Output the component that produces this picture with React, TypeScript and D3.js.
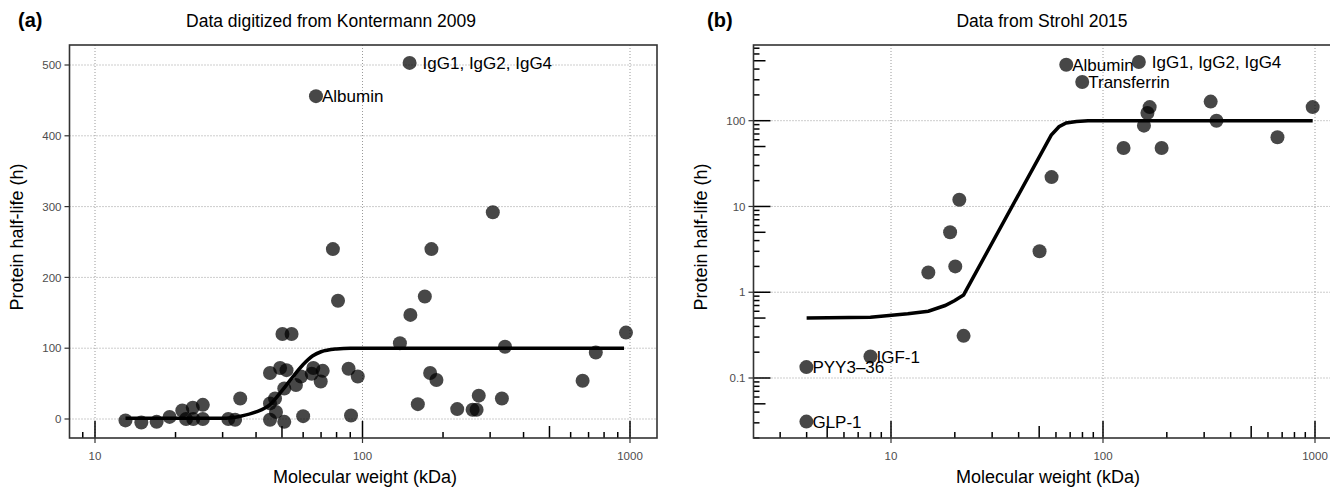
import React from 'react';
import * as d3 from 'd3';

// panel (a): Kontermann 2009
const mwA = [13, 14.9, 17, 19, 21.2, 21.9, 23.2, 23.3, 25.3, 25.3, 31.5, 33.4, 34.9, 45.1, 45.1, 47.1, 47.5, 51, 45.1, 49.2, 52, 51, 50.2, 54.3, 56.4, 58.9, 60, 65.5, 64.6, 69.8, 71, 77.5, 67, 81, 88.7, 96, 90.6, 138, 150, 151, 171, 181, 179, 189, 161, 226, 258, 267, 272, 307, 332, 341, 665, 745, 966];
const hlA = [-2, -5, -4, 3, 12, 0, 16, 0, 20, 0, 0, -1, 29, -1, 22, 29, 10, -4, 65, 72, 69, 43, 120, 120, 48, 60, 4, 72, 64, 53, 68, 240, 456, 167, 71, 60, 5, 107, 503, 147, 173, 240, 65, 55, 21, 14, 13, 13, 33, 292, 29, 102, 54, 94, 122];
const labelA = ['', '', '', '', '', '', '', '', '', '', '', '', '', '', '', '', '', '', '', '', '', '', '', '', '', '', '', '', '', '', '', '', 'Albumin', '', '', '', '', '', 'IgG1, IgG2, IgG4', '', '', '', '', '', '', '', '', '', '', '', '', '', '', '', ''];
const fitMwA = [13, 20, 30, 35, 40, 45, 50, 55, 60, 65, 70, 80, 90, 100, 950];
const fitHlA = [1, 1, 1, 4, 10, 20, 40, 60, 77, 89, 95, 99, 100, 100, 100];

// panel (b): Strohl 2015
const mwB = [67.1, 147.6, 79.8, 166, 162, 156, 125, 189, 322, 343, 665, 975, 57.2, 21, 19, 20.1, 15, 50.2, 22, 8.0, 3.99, 3.99];
const hlB = [450, 484, 283, 144, 123, 87.5, 48, 48, 167, 100, 64, 144, 22, 12, 5.0, 2.0, 1.7, 3.0, 0.31, 0.178, 0.134, 0.031];
const labelB = ['Albumin', 'IgG1, IgG2, IgG4', 'Transferrin', '', '', '', '', '', '', '', '', '', '', '', '', '', '', '', '', 'IGF-1', 'PYY3\u201336', 'GLP-1'];
const fitMwB = [4, 8, 12, 15, 18, 20, 22, 57, 62, 67, 75, 85, 975];
const fitHlB = [0.5, 0.51, 0.56, 0.6, 0.7, 0.8, 0.93, 68, 85, 94, 98, 100, 100];

const xTicks = [10, 100, 1000];
const yTicksA = [0, 100, 200, 300, 400, 500];
const yTicksB = [0.1, 1, 10, 100];

const FONT = '"Liberation Sans", Arial, sans-serif';

function logTicks(lo: number, hi: number) {
  const out: { v: number; len: number }[] = [];
  for (let k = -3; k <= 4; k++) {
    for (let m = 1; m <= 9; m++) {
      const v = m * Math.pow(10, k);
      if (v > lo && v < hi) out.push({ v, len: m === 1 ? 17 : m === 5 ? 12 : 6 });
    }
  }
  return out;
}

type PanelProps = {
  tag: string;
  tagX: number;
  title: string;
  titleX: number;
  xTitleX: number;
  frame: { x0: number; x1: number; y0: number; y1: number };
  x: d3.ScaleLogarithmic<number, number>;
  y: any;
  yLog: boolean;
  yTicks: number[];
  mw: number[];
  hl: number[];
  labels: string[];
  fitMw: number[];
  fitHl: number[];
  curve: d3.CurveFactory;
  yTitleX: number;
};

function Panel(p: PanelProps) {
  const { frame, x, y } = p;
  const xLo = x.invert(frame.x0), xHi = x.invert(frame.x1);
  const line = d3.line<number>()
    .x((d) => x(p.fitMw[d]))
    .y((d) => y(p.fitHl[d]))
    .curve(p.curve);
  let yMinor: { v: number; len: number }[] = [];
  if (p.yLog) yMinor = logTicks(y.invert(frame.y1), y.invert(frame.y0));
  return (
    <g>
      <text x={p.tagX} y={27} fontSize={20} fontWeight="bold" fontFamily={FONT}>{p.tag}</text>
      <text x={p.titleX} y={26.5} fontSize={17.5} textAnchor="middle" fontFamily={FONT}>{p.title}</text>

      {/* grid */}
      {xTicks.map((t) => (
        <line key={'gx' + t} x1={x(t)} x2={x(t)} y1={frame.y0} y2={frame.y1} stroke="#9a9a9a" strokeWidth={1} strokeDasharray="1 2" />
      ))}
      {p.yTicks.map((t) => (
        <line key={'gy' + t} x1={frame.x0} x2={frame.x1} y1={y(t)} y2={y(t)} stroke="#9a9a9a" strokeWidth={1} strokeDasharray="1 2" />
      ))}

      {/* points */}
      {p.mw.map((m, i) => (
        <circle key={'p' + i} cx={x(m)} cy={y(p.hl[i])} r={7} fill="#000" fillOpacity={0.72} />
      ))}
      <path d={line(d3.range(p.fitMw.length)) || ''} fill="none" stroke="#000" strokeWidth={3.5} />

      {p.labels.map((l, i) => l === '' ? null : (
        <text key={'l' + i} x={x(p.mw[i]) + (l.startsWith('IgG') ? 13 : 6)} y={y(p.hl[i])} dy="0.36em" fontSize={17} fontFamily={FONT}>{l}</text>
      ))}

      {/* log ticks */}
      {logTicks(xLo, xHi).map((t) => (
        <line key={'lx' + t.v} x1={x(t.v)} x2={x(t.v)} y1={frame.y1} y2={frame.y1 - t.len} stroke="#000" strokeWidth={1.5} />
      ))}
      {yMinor.map((t) => (
        <line key={'ly' + t.v} x1={frame.x0} x2={frame.x0 + t.len} y1={y(t.v)} y2={y(t.v)} stroke="#000" strokeWidth={1.5} />
      ))}

      {/* frame */}
      <rect x={frame.x0} y={frame.y0} width={frame.x1 - frame.x0} height={frame.y1 - frame.y0} fill="none" stroke="#333" strokeWidth={1.6} />

      {/* axes */}
      {xTicks.map((t) => (
        <g key={'xt' + t}>
          <line x1={x(t)} x2={x(t)} y1={frame.y1} y2={frame.y1 + 5} stroke="#333" strokeWidth={1.2} />
          <text x={x(t)} y={459.5} fontSize={11.5} fill="#4d4d4d" textAnchor="middle" fontFamily={FONT}>{t}</text>
        </g>
      ))}
      {p.yTicks.map((t) => (
        <g key={'yt' + t}>
          <line x1={frame.x0 - 5} x2={frame.x0} y1={y(t)} y2={y(t)} stroke="#333" strokeWidth={1.2} />
          <text x={frame.x0 - 8} y={y(t)} dy="0.36em" fontSize={11.5} fill="#4d4d4d" textAnchor="end" fontFamily={FONT}>{t}</text>
        </g>
      ))}

      <text x={p.xTitleX} y={483} fontSize={18} textAnchor="middle" fontFamily={FONT}>Molecular weight (kDa)</text>
      <text transform={`translate(${p.yTitleX},237) rotate(-90)`} dy="0.36em" fontSize={18} textAnchor="middle" fontFamily={FONT}>Protein half-life (h)</text>
    </g>
  );
}

export default function App() {
  const xA = d3.scaleLog().domain([10, 1000]).range([95, 630]);
  const yA = d3.scaleLinear().domain([0, 500]).range([419, 65]);
  const xB = d3.scaleLog().domain([10, 1000]).range([891, 1315]);
  const yB = d3.scaleLog().domain([0.1, 100]).range([378, 120.7]);

  return (
    <svg width={1330} height={489} style={{ position: 'absolute', left: 0, top: 0, background: '#fff' }}>
      <rect width={1330} height={489} fill="#fff" />
      <Panel tag="(a)" tagX={18} title="Data digitized from Kontermann 2009" titleX={331} xTitleX={365}
        frame={{ x0: 69.5, x1: 657, y0: 45, y1: 438 }} x={xA} y={yA} yLog={false} yTicks={yTicksA}
        mw={mwA} hl={hlA} labels={labelA} fitMw={fitMwA} fitHl={fitHlA} curve={d3.curveMonotoneX} yTitleX={17} />
      <Panel tag="(b)" tagX={707} title="Data from Strohl 2015" titleX={1042} xTitleX={1048}
        frame={{ x0: 753.5, x1: 1342, y0: 45, y1: 438 }} x={xB} y={yB} yLog={true} yTicks={yTicksB}
        mw={mwB} hl={hlB} labels={labelB} fitMw={fitMwB} fitHl={fitHlB} curve={d3.curveLinear} yTitleX={701} />
    </svg>
  );
}
